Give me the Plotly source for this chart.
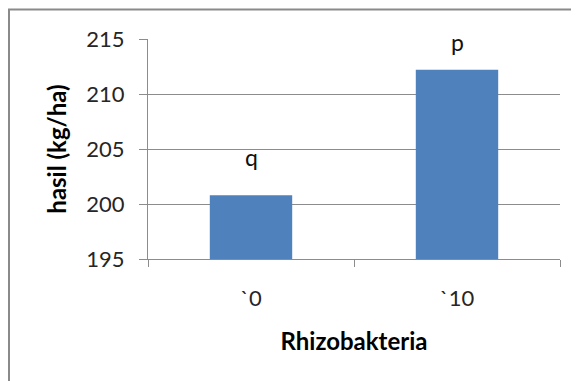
import plotly.graph_objects as go

categories = ["`0", "`10"]
values = [200.8, 212.2]
letters = ["q", "p"]
y_ticks = [195, 200, 205, 210, 215]

FONT = "Lato, Liberation Sans, Arial, sans-serif"
BAR = "#4F81BD"
GRID = "#8C8C8C"

fig = go.Figure()
fig.add_trace(go.Bar(
    x=categories, y=values, width=0.4,
    marker=dict(color=BAR, line=dict(width=0)),
    hoverinfo="skip",
))

label_shift = [44, 34]
for c, v, t, s in zip(categories, values, letters, label_shift):
    fig.add_annotation(x=c, y=v, text=t, showarrow=False, yanchor="bottom",
                       yshift=s - 22, font=dict(family=FONT, size=23, color="#111"))

# outer frame (top and left edges visible in the crop)
fig.add_shape(type="rect", xref="paper", yref="paper",
              x0=-0.3374, x1=1.2, y0=1.134, y1=-0.8,
              line=dict(color="#8A8A8A", width=2), layer="below")

fig.update_layout(
    width=571, height=373,
    margin=dict(l=140, r=19, t=31, b=122),
    paper_bgcolor="white", plot_bgcolor="white",
    showlegend=False,
    font=dict(family=FONT, color="#262626"),
    bargap=0.6,
)
fig.update_xaxes(
    type="category", tickson="boundaries",
    ticks="outside", ticklen=7, tickcolor=GRID, tickwidth=1,
    showline=True, linecolor=GRID, linewidth=1,
    showgrid=False,
    tickfont=dict(family=FONT, size=22, color="#262626"),
    ticklabelstandoff=20,
    title=dict(text="<b>Rhizobakteria</b>", font=dict(family=FONT, size=24, color="#000"), standoff=22),
)
fig.update_yaxes(
    range=[195, 215], tickvals=y_ticks,
    ticks="outside", ticklen=8, tickcolor=GRID, tickwidth=1,
    showline=True, linecolor=GRID, linewidth=1,
    showgrid=True, gridcolor=GRID, gridwidth=1,
    zeroline=False,
    tickfont=dict(family=FONT, size=22, color="#262626"),
    ticklabelstandoff=10,
    title=dict(text="<b>hasil (kg/ha)</b>", font=dict(family=FONT, size=24, color="#000"), standoff=12),
)

fig.write_html("out.html")
